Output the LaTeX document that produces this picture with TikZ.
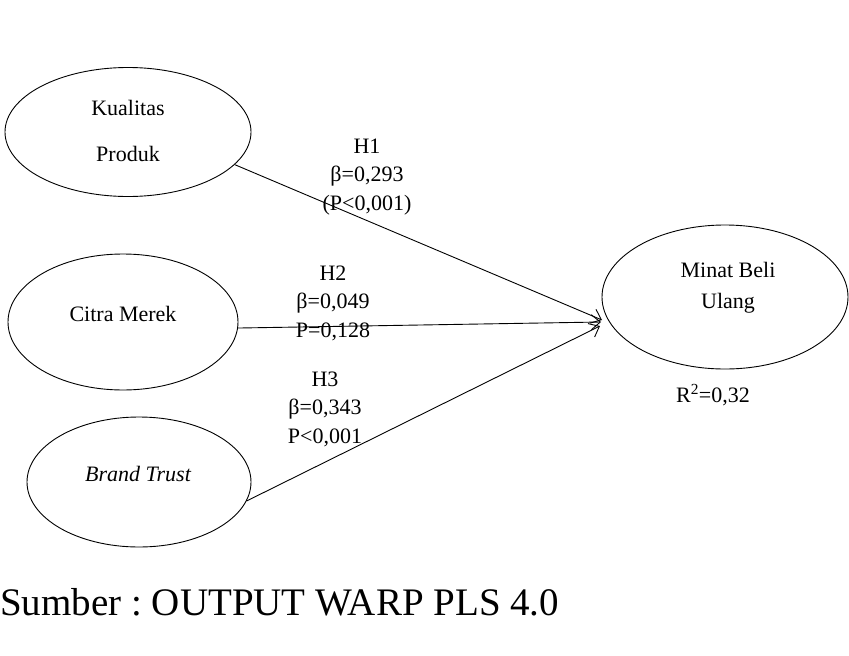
\documentclass[tikz,border=0pt]{standalone}
\usepackage{fontspec}
\setmainfont{Liberation Serif}
\usetikzlibrary{shapes.geometric, arrows.meta}
\frenchspacing

\begin{document}
\begin{tikzpicture}[x=1pt, y=-1pt,
  latent/.style={draw, ellipse, line width=0.9pt, inner sep=0pt},
  lbl/.style={align=center, font=\fontsize{22}{28.5}\selectfont},
  hyp/.style={line width=0.9pt, -{Straight Barb[length=9pt, width=15pt]}}]
  \useasboundingbox (0,0) rectangle (849,656);
  % Latent variables
  \node[latent, minimum width=246pt, minimum height=129pt] (kp) at (128,132) {};
  \node[latent, minimum width=230pt, minimum height=136pt] (cm) at (123,322) {};
  \node[latent, minimum width=224pt, minimum height=130pt] (bt) at (139,482) {};
  \node[latent, minimum width=246pt, minimum height=144pt] (mbu) at (725,297) {};
  \node[lbl] (kpText) at (128,131) {Kualitas\\[17.5pt]Produk};
  \node[lbl] (cmText) at (123,314) {Citra Merek};
  \node[lbl] (btText) at (138,474) {\itshape Brand Trust};
  \node[lbl, font=\fontsize{22}{31}\selectfont] (mbuText) at (728,288) {Minat Beli\\Ulang};
  % Arrow ends
  \coordinate (t1) at (602,320);
  \coordinate (t2) at (601,322);
  \coordinate (t3) at (600,326);
  \draw[hyp] (kp.-17.6) -- (t1);
  \draw[hyp] (cm.-3) -- (t2);
  \draw[hyp] (bt.-10.6) -- (t3);
  % Path coefficients
  \node[lbl] (h1) at (367,177) {H1\\β=0,293\\(P<0,001)};
  \node[lbl] (h2) at (333,303) {H2\\β=0,049\\P=0,128};
  \node[lbl] (h3) at (325,409) {H3\\β=0,343\\P<0,001};
  \node[lbl] (r2) at (713,395) {R\textsuperscript{2}=0,32};
  % Source
  \node[anchor=base west, inner sep=0pt, font=\fontsize{39}{40}\selectfont] (src) at (0,615) {Sumber : OUTPUT WARP PLS 4.0};
\end{tikzpicture}
\end{document}
